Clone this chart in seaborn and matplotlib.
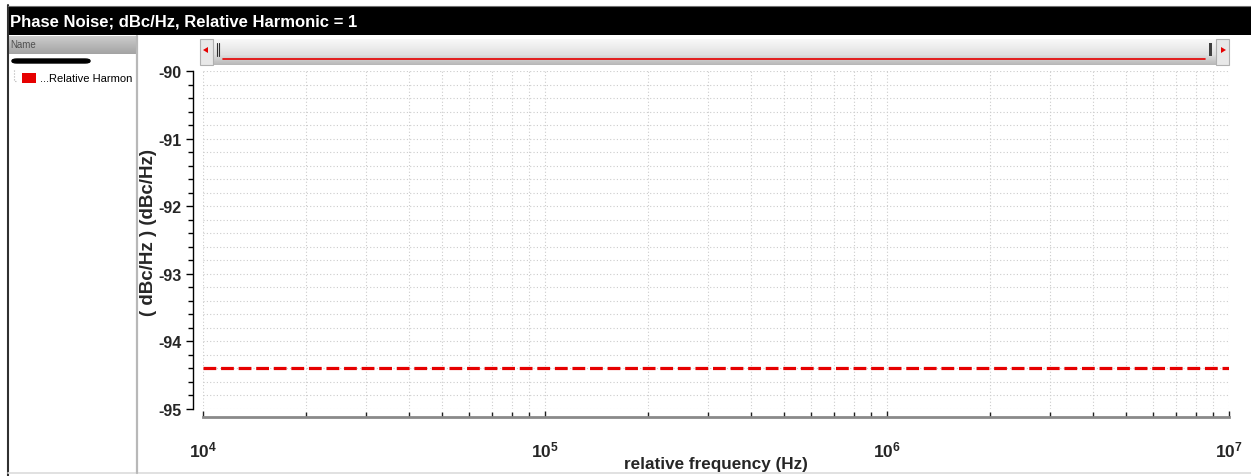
import numpy as np
import pandas as pd
import matplotlib
matplotlib.use("Agg")
import matplotlib.pyplot as plt
import matplotlib.ticker as mticker
from matplotlib.patches import Rectangle, FancyBboxPatch, Polygon
from matplotlib.lines import Line2D
import seaborn as sns

# ---- data -------------------------------------------------------------
freq_hz = [1e4, 1e5, 1e6, 1e7]
phase_noise_dbc = [-94.39, -94.39, -94.39, -94.39]
series_name = "...Relative Harmon"
title_text = "Phase Noise; dBc/Hz, Relative Harmonic = 1"
ytick_values = [-90, -91, -92, -93, -94, -95]
xtick_values = [1e4, 1e5, 1e6, 1e7]
xtick_labels = ["$10^{4}$", "$10^{5}$", "$10^{6}$", "$10^{7}$"]
x_label = "relative frequency (Hz)"
y_label = "( dBc/Hz ) (dBc/Hz)"

df = pd.DataFrame({"freq": freq_hz, "pn": phase_noise_dbc})

# ---- figure -----------------------------------------------------------
W, H = 1251, 477
sns.set_style("white")
plt.rcParams["font.family"] = ["Liberation Sans", "DejaVu Sans"]
plt.rcParams["axes.unicode_minus"] = False
plt.rcParams["mathtext.fontset"] = "custom"
plt.rcParams["mathtext.rm"] = "Liberation Sans:bold"
plt.rcParams["mathtext.it"] = "Liberation Sans:bold"
plt.rcParams["mathtext.bf"] = "Liberation Sans:bold"

fig = plt.figure(figsize=(W / 100, H / 100), dpi=100)
fig.patch.set_facecolor("white")


def fx(x):
    return x / W


def fy(y):
    return 1 - y / H


def frect(x0, y0, x1, y1, **kw):
    r = Rectangle((fx(x0), fy(y1)), fx(x1) - fx(x0), fy(y0) - fy(y1),
                  transform=fig.transFigure, **kw)
    fig.add_artist(r)
    return r


def fline(xs, ys, **kw):
    ln = Line2D([fx(v) for v in xs], [fy(v) for v in ys],
                transform=fig.transFigure, **kw)
    fig.add_artist(ln)
    return ln


# window frame: title bar, left border, bottom edge
frect(8, 7, W, 36, facecolor="black", edgecolor="none", zorder=1)
fline([7.5, 7.5], [6, H], color="#303030", lw=1.5)
fline([8, W], [6.5, 6.5], color="#707070", lw=0.8)
fline([8, W], [474, 474], color="#dcdcdc", lw=1.2)
fig.text(fx(10), fy(22), title_text, color="white", fontsize=12,
         fontweight="bold", ha="left", va="center")

# navigation panel on the left
hdr = fig.add_axes([fx(9), fy(55), fx(137) - fx(9), fy(37) - fy(55)])
hdr.imshow(np.linspace(0.80, 0.64, 32).reshape(-1, 1), cmap="gray",
           vmin=0, vmax=1, aspect="auto", extent=[0, 1, 0, 1])
hdr.set_axis_off()
fig.text(fx(10), fy(45), "Name", color="#505050", fontsize=7,
         ha="left", va="center")
fline([137, 137], [37, 474], color="#b8b8b8", lw=1.6)
fig.add_artist(FancyBboxPatch((fx(12), fy(64)), fx(90) - fx(12), fy(60) - fy(64),
                              boxstyle="round,pad=0,rounding_size=0.004",
                              transform=fig.transFigure, facecolor="black",
                              edgecolor="black"))
fline([13.5, 13.5, 17], [71, 82, 82], color="#b0b0b0", lw=0.8, ls=":")
frect(22, 74, 36, 84, facecolor="#e60000", edgecolor="none")
fig.text(fx(40), fy(79), series_name, color="black", fontsize=8,
         ha="left", va="center")

# horizontal scroll bar above the plot
sb = fig.add_axes([fx(200), fy(66), fx(1229) - fx(200), fy(40) - fy(66)])
sb.imshow(np.concatenate([np.linspace(0.97, 0.88, 16), np.linspace(0.86, 0.72, 10)]).reshape(-1, 1),
          cmap="gray", vmin=0, vmax=1, aspect="auto", extent=[0, 1, 0, 1])
sb.set_axis_off()
frect(200, 40, 213, 66, facecolor="#e8e8e8", edgecolor="#b0b0b0", lw=0.8, zorder=3)
frect(1216, 40, 1229, 66, facecolor="#e8e8e8", edgecolor="#b0b0b0", lw=0.8, zorder=3)
fig.add_artist(Polygon([(fx(203), fy(51)), (fx(208), fy(48)), (fx(208), fy(54))],
                       closed=True, transform=fig.transFigure,
                       facecolor="#e60000", edgecolor="none", zorder=4))
fig.add_artist(Polygon([(fx(1226), fy(51)), (fx(1221), fy(48)), (fx(1221), fy(54))],
                       closed=True, transform=fig.transFigure,
                       facecolor="#e60000", edgecolor="none", zorder=4))
fline([217, 217], [44, 57], color="#303030", lw=0.8, zorder=4)
fline([219, 219], [44, 57], color="#303030", lw=0.8, zorder=4)
frect(1209, 44, 1212, 57, facecolor="#404040", edgecolor="none", zorder=4)
fline([223, 1205], [60, 60], color="#e60000", lw=1.2, zorder=4)

# ---- main plot --------------------------------------------------------
x0, x1, y0, y1 = 203, 1229, 72, 410
ax = fig.add_axes([fx(x0), fy(y1), fx(x1) - fx(x0), fy(y0) - fy(y1)])
ax.set_facecolor("white")

sns.lineplot(data=df, x="freq", y="pn", ax=ax, color="#e60000", lw=2.3,
             linestyle=(0, (4, 1.5)), zorder=5)

ax.set_xscale("log")
ax.set_xlim(1e4, 1e7)
ax.set_ylim(-95, -90)

ax.xaxis.set_major_locator(mticker.FixedLocator(xtick_values))
ax.xaxis.set_major_formatter(mticker.FixedFormatter(xtick_labels))
ax.xaxis.set_minor_locator(mticker.LogLocator(base=10, subs=np.arange(2, 10)))
ax.xaxis.set_minor_formatter(mticker.NullFormatter())
ax.yaxis.set_major_locator(mticker.FixedLocator(ytick_values))
ax.yaxis.set_minor_locator(mticker.MultipleLocator(0.2))

ax.grid(True, which="both", color="#cccccc", lw=0.8, ls=(0, (1, 2)))
ax.set_axisbelow(True)

for side in ("top", "right"):
    ax.spines[side].set_visible(False)
ax.spines["left"].set_position(("outward", 7.2))
ax.spines["left"].set_color("black")
ax.spines["left"].set_linewidth(1.0)
ax.spines["bottom"].set_position(("outward", 5.8))
ax.spines["bottom"].set_color("#8a8a8a")
ax.spines["bottom"].set_linewidth(2.0)

ax.tick_params(left=True, bottom=True, which="both")
ax.tick_params(axis="y", which="major", direction="out", length=5, width=1,
               color="black", pad=3, labelsize=11.5)
ax.tick_params(axis="y", which="minor", direction="out", length=3.5, width=1,
               color="black")
ax.tick_params(axis="x", which="major", direction="in", length=4.5, width=1,
               color="#202020", pad=16, labelsize=12.5)
ax.tick_params(axis="x", which="minor", direction="in", length=3.5, width=1,
               color="#202020")
for lab in ax.get_yticklabels():
    lab.set_fontweight("bold")

ax.set_xlabel(x_label, fontsize=12.3, fontweight="bold")
ax.set_ylabel(y_label, fontsize=13.5, fontweight="bold")
ax.xaxis.set_label_coords(0.5, -0.14)
ax.yaxis.set_label_coords(-0.045, 0.524)

fig.savefig("out.png", dpi=100)
